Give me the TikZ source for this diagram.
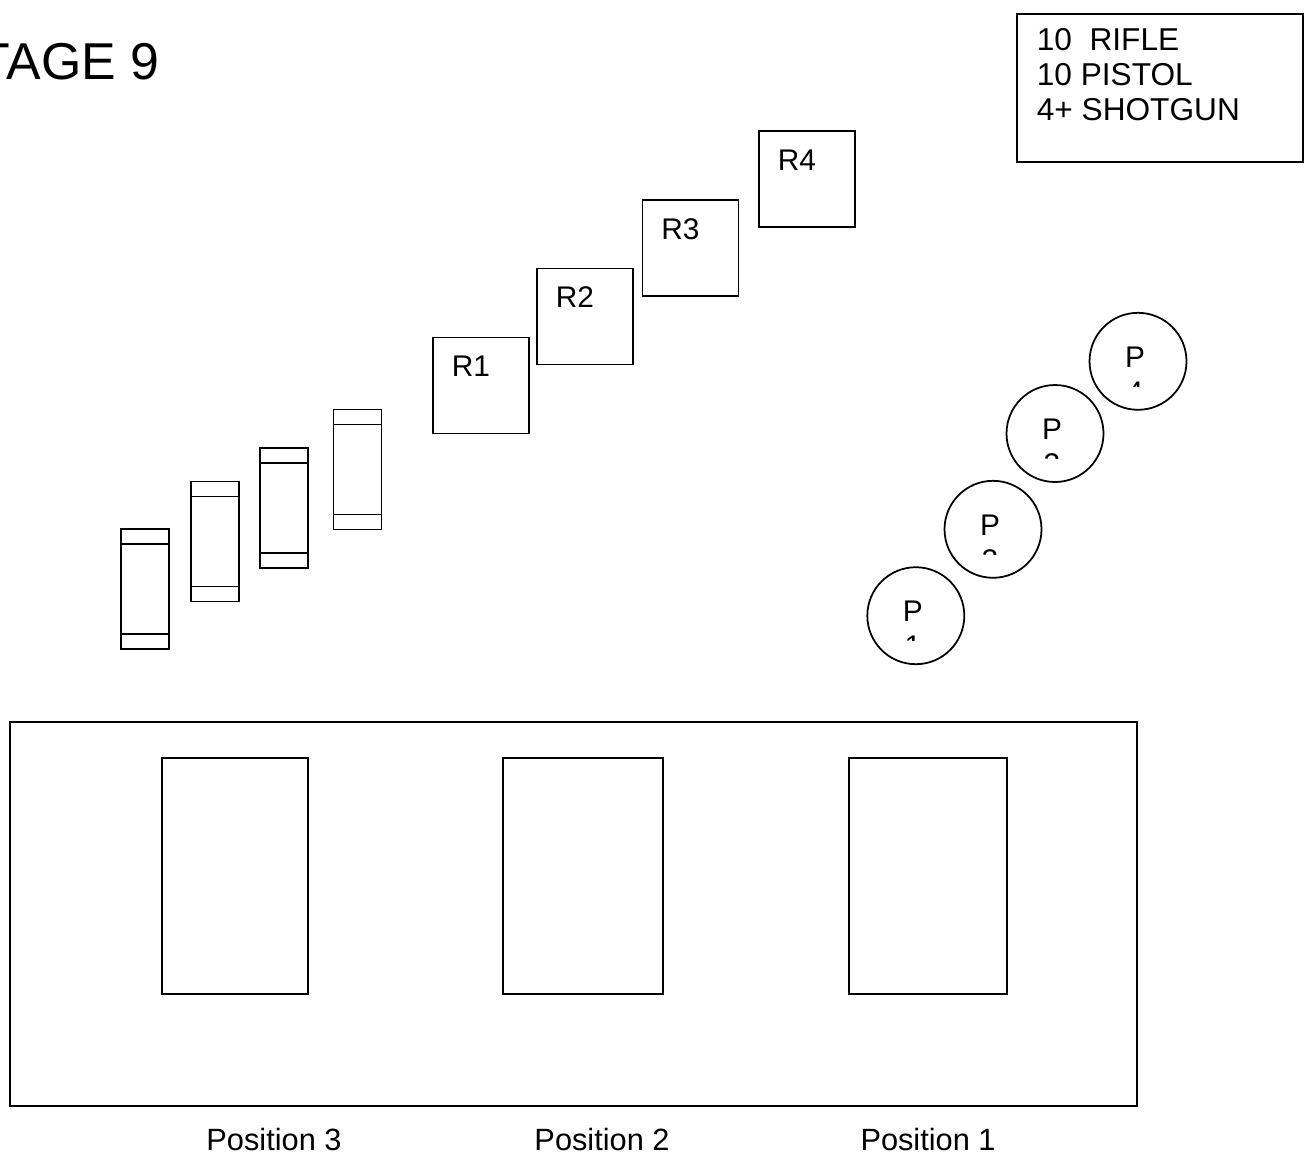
\documentclass[tikz,border=0pt]{standalone}
\usepackage{fontspec}
\setmainfont{Liberation Sans}
\usetikzlibrary{positioning,calc}
\tikzset{
  rtgt/.style  ={draw, rectangle, line width=1pt, outer sep=0pt, minimum width=1.92cm, minimum height=1.92cm},
  stgt/.style  ={draw, rectangle, line width=1pt, outer sep=0pt, minimum width=0.96cm, minimum height=2.4cm},
  ptgt/.style  ={draw, circle, line width=1pt, outer sep=0pt, minimum size=1.94cm, inner sep=0pt},
  port/.style  ={draw, rectangle, line width=1pt, outer sep=0pt, minimum height=4.72cm},
  txt/.style   ={inner sep=0pt, font=\fontsize{17}{19.8}\selectfont},
  cnt/.style   ={inner sep=0pt, font=\fontsize{18}{19.8}\selectfont},
  poslbl/.style={inner sep=0pt, font=\fontsize{17.5}{20}\selectfont},
  ttl/.style   ={inner sep=0pt, font=\fontsize{29.5}{34}\selectfont},
}
\newcommand{\bands}[1]{%
  \draw ($(#1.north west)+(0,15)$) -- ($(#1.north east)+(0,15)$);
  \draw ($(#1.south west)+(0,-15)$) -- ($(#1.south east)+(0,-15)$);}
\newcommand{\pnum}[2]{%
  \node[txt, anchor=base] at ($(#1)+(-3,6)$) {P};
  \begin{scope}
    \clip ($(#1)+(-20,13)$) rectangle ($(#1)+(20,25)$);
    \node[txt, anchor=base] at ($(#1)+(-3,41)$) {#2};
  \end{scope}}

\begin{document}
\begin{tikzpicture}[x=0.02cm, y=-0.02cm, line width=1pt]
  \clip (0,0) rectangle (1310,1157);

  % title, cut at the sheet edge
  \node[ttl, anchor=base east] (title) at (160,79) {STAGE 9};

  % round count
  \node[draw, outer sep=0pt, minimum width=5.72cm, minimum height=2.96cm, anchor=north west] (count) at (1017,14) {};
  \node[cnt, anchor=north west, align=left] (countlbl) at (1036,28) {10\ \ RIFLE\\10 PISTOL\\4+ SHOTGUN};

  % rifle steel
  \node[rtgt] (r1) at (481,385.5) {};
  \node[rtgt] (r2) at (585,316.5) {};
  \node[rtgt] (r3) at (690.5,248) {};
  \node[rtgt] (r4) at (807,179) {};
  \node[txt, anchor=base west] at ($(r1.north west)+(18,39)$) {R1};
  \node[txt, anchor=base west] at ($(r2.north west)+(18,39)$) {R2};
  \node[txt, anchor=base west] at ($(r3.north west)+(18,39)$) {R3};
  \node[txt, anchor=base west] at ($(r4.north west)+(18,39)$) {R4};

  % shotgun targets
  \node[stgt] (s1) at (145,589) {};
  \node[stgt] (s2) at (215,541.5) {};
  \node[stgt] (s3) at (284,508) {};
  \node[stgt] (s4) at (357.5,469.5) {};
  \bands{s1} \bands{s2} \bands{s3} \bands{s4}

  % pistol plates
  \node[ptgt] (p1) at (915.8,615.7) {};
  \node[ptgt] (p2) at (993,529.3) {};
  \node[ptgt] (p3) at (1055,433.5) {};
  \node[ptgt] (p4) at (1138,361.3) {};
  \pnum{p1}{1} \pnum{p2}{2} \pnum{p3}{3} \pnum{p4}{4}

  % shooting box with windows
  \node[draw, outer sep=0pt, minimum width=22.54cm, minimum height=7.68cm] (box) at (573.5,914) {};
  \node[port, minimum width=2.92cm] (win3) at (235,876) {};
  \node[port, minimum width=3.2cm]  (win2) at (583,876) {};
  \node[port, minimum width=3.16cm] (win1) at (928,876) {};
  \node[poslbl, anchor=base] (pos3) at (274,1150) {Position 3};
  \node[poslbl, anchor=base] (pos2) at (602,1150) {Position 2};
  \node[poslbl, anchor=base] (pos1) at (928,1150) {Position 1};
\end{tikzpicture}
\end{document}
